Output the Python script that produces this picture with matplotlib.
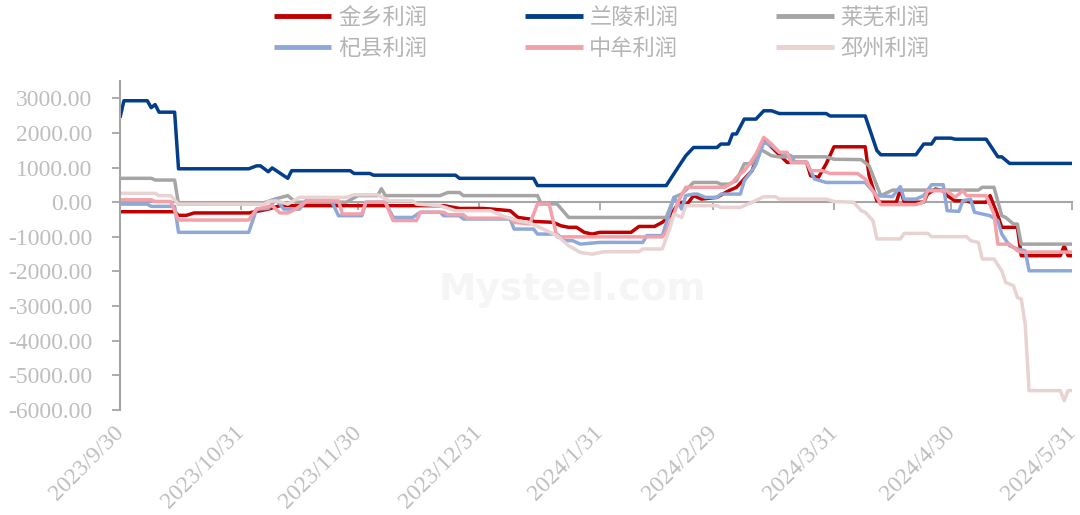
import matplotlib
matplotlib.use('Agg')
import matplotlib.pyplot as plt
import matplotlib.transforms as mtransforms
import pandas as pd

# ---------------- data ----------------
jx_dates = ['2023-09-30', '2023-10-14', '2023-10-15', '2023-10-17', '2023-10-19', '2023-11-02', '2023-11-07',
            '2023-11-10', '2023-12-22', '2023-12-26', '2024-01-01', '2024-01-03', '2024-01-08', '2024-01-10',
            '2024-01-13', '2024-01-14', '2024-01-19', '2024-01-21', '2024-01-23', '2024-01-25', '2024-01-27',
            '2024-01-29', '2024-01-31', '2024-02-08', '2024-02-10', '2024-02-14', '2024-02-16', '2024-02-18',
            '2024-02-20', '2024-02-21', '2024-02-22', '2024-02-23', '2024-02-24', '2024-02-26', '2024-03-01',
            '2024-03-04', '2024-03-06', '2024-03-08', '2024-03-10', '2024-03-13', '2024-03-16', '2024-03-19',
            '2024-03-24', '2024-03-25', '2024-03-27', '2024-03-29', '2024-03-31', '2024-04-08', '2024-04-09',
            '2024-04-11', '2024-04-12', '2024-04-16', '2024-04-17', '2024-04-18', '2024-04-23', '2024-04-24',
            '2024-04-26', '2024-04-28', '2024-04-29', '2024-05-01', '2024-05-04', '2024-05-05', '2024-05-09',
            '2024-05-10', '2024-05-11', '2024-05-12', '2024-05-13', '2024-05-17', '2024-05-18', '2024-05-28',
            '2024-05-29', '2024-05-30', '2024-05-31']
jx_vals = [-275, -275, -380, -380, -310, -310, -200,
           -100, -100, -180, -180, -195, -245, -440,
           -485, -555, -580, -680, -725, -725, -870,
           -920, -870, -870, -700, -700, -580, -390,
           -55, 0, -100, 40, 190, 90, 140,
           330, 430, 670, 910, 1820, 1480, 1150,
           1150, 765, 715, 1110, 1600, 1600, 765,
           40, 0, 0, 380, 0, 0, 240,
           380, 330, 190, 40, 40, 0, 0,
           190, -100, -390, -725, -725, -1545, -1545,
           -1260, -1545, -1545]

ll_dates = ['2023-09-30', '2023-10-01', '2023-10-07', '2023-10-08', '2023-10-09', '2023-10-10', '2023-10-14',
            '2023-10-15', '2023-11-02', '2023-11-04', '2023-11-05', '2023-11-07', '2023-11-08', '2023-11-12',
            '2023-11-13', '2023-11-28', '2023-11-29', '2023-12-03', '2023-12-04', '2023-12-25', '2023-12-26',
            '2024-01-14', '2024-01-15', '2024-02-17', '2024-02-20', '2024-02-22', '2024-02-24', '2024-03-01',
            '2024-03-02', '2024-03-04', '2024-03-05', '2024-03-06', '2024-03-08', '2024-03-11', '2024-03-13',
            '2024-03-15', '2024-03-17', '2024-03-29', '2024-03-30', '2024-04-08', '2024-04-11', '2024-04-12',
            '2024-04-21', '2024-04-23', '2024-04-25', '2024-04-26', '2024-04-30', '2024-05-01', '2024-05-09',
            '2024-05-12', '2024-05-13', '2024-05-15', '2024-05-31']
ll_vals = [2440, 2930, 2930, 2730, 2820, 2600, 2600,
           965, 965, 1050, 1050, 880, 990, 690,
           910, 910, 830, 830, 780, 780, 690,
           690, 480, 480, 1000, 1340, 1580, 1580,
           1680, 1680, 1970, 1970, 2400, 2400, 2640,
           2640, 2560, 2560, 2490, 2490, 1490, 1370,
           1370, 1680, 1680, 1850, 1850, 1820, 1820,
           1310, 1310, 1120, 1120]

lw_dates = ['2023-09-30', '2023-10-08', '2023-10-09', '2023-10-14', '2023-10-15', '2023-11-05', '2023-11-09',
            '2023-11-12', '2023-11-14', '2023-11-27', '2023-11-30', '2023-12-05', '2023-12-06', '2023-12-07',
            '2023-12-21', '2023-12-23', '2023-12-26', '2023-12-27', '2024-01-15', '2024-01-16', '2024-01-20',
            '2024-01-23', '2024-02-17', '2024-02-19', '2024-02-21', '2024-02-24', '2024-03-01', '2024-03-02',
            '2024-03-04', '2024-03-06', '2024-03-08', '2024-03-10', '2024-03-12', '2024-03-15', '2024-03-17',
            '2024-03-29', '2024-03-31', '2024-04-07', '2024-04-09', '2024-04-12', '2024-04-15', '2024-05-07',
            '2024-05-08', '2024-05-11', '2024-05-13', '2024-05-14', '2024-05-16', '2024-05-17', '2024-05-18',
            '2024-05-31']
lw_vals = [690, 690, 640, 640, -60, -50, 100,
           190, 0, 0, 190, 190, 390, 190,
           190, 280, 280, 190, 190, -50, -50,
           -440, -440, 140, 240, 570, 570, 520,
           520, 620, 1110, 1110, 1540, 1340, 1310,
           1310, 1240, 1230, 1050, 190, 350, 350,
           430, 430, -390, -440, -630, -630, -1210,
           -1210]

qx_dates = ['2023-09-30', '2023-10-07', '2023-10-08', '2023-10-14', '2023-10-15', '2023-11-02', '2023-11-04',
            '2023-11-07', '2023-11-09', '2023-11-11', '2023-11-15', '2023-11-17', '2023-11-23', '2023-11-25',
            '2023-12-01', '2023-12-02', '2023-12-07', '2023-12-09', '2023-12-14', '2023-12-16', '2023-12-21',
            '2023-12-22', '2023-12-26', '2023-12-27', '2024-01-08', '2024-01-09', '2024-01-14', '2024-01-15',
            '2024-01-20', '2024-01-22', '2024-01-24', '2024-01-26', '2024-01-31', '2024-02-11', '2024-02-12',
            '2024-02-16', '2024-02-18', '2024-02-19', '2024-02-21', '2024-02-22', '2024-02-24', '2024-02-25',
            '2024-02-27', '2024-03-01', '2024-03-02', '2024-03-07', '2024-03-08', '2024-03-10', '2024-03-11',
            '2024-03-13', '2024-03-15', '2024-03-17', '2024-03-20', '2024-03-21', '2024-03-24', '2024-03-26',
            '2024-03-29', '2024-04-08', '2024-04-11', '2024-04-15', '2024-04-17', '2024-04-18', '2024-04-21',
            '2024-04-23', '2024-04-25', '2024-04-28', '2024-04-29', '2024-05-02', '2024-05-03', '2024-05-05',
            '2024-05-06', '2024-05-10', '2024-05-12', '2024-05-13', '2024-05-15', '2024-05-17', '2024-05-19',
            '2024-05-20', '2024-05-31']
qx_vals = [-55, -55, -120, -120, -870, -870, -200,
           -180, 90, -200, -200, 90, 90, -390,
           -390, 0, 0, -440, -440, -290, -290,
           -390, -390, -485, -485, -775, -775, -920,
           -920, -1110, -1110, -1210, -1160, -1160, -965,
           -965, -245, 140, -200, 190, 235, 235,
           140, 140, 235, 235, 620, 910, 1100,
           1730, 1630, 1440, 1340, 1150, 1150, 670,
           570, 570, 190, 160, 450, 90, 90,
           190, 505, 505, -245, -265, 40, 90,
           -290, -390, -535, -920, -1255, -1350, -1400,
           -1980, -1980]

zm_dates = ['2023-09-30', '2023-10-08', '2023-10-09', '2023-10-13', '2023-10-15', '2023-11-02', '2023-11-04',
            '2023-11-08', '2023-11-10', '2023-11-12', '2023-11-14', '2023-11-17', '2023-11-25', '2023-11-26',
            '2023-12-01', '2023-12-02', '2023-12-07', '2023-12-09', '2023-12-15', '2023-12-16', '2023-12-22',
            '2023-12-23', '2023-12-27', '2023-12-28', '2024-01-08', '2024-01-09', '2024-01-13', '2024-01-15',
            '2024-01-18', '2024-01-20', '2024-02-16', '2024-02-17', '2024-02-19', '2024-02-20', '2024-02-22',
            '2024-03-03', '2024-03-05', '2024-03-06', '2024-03-08', '2024-03-09', '2024-03-11', '2024-03-13',
            '2024-03-15', '2024-03-17', '2024-03-19', '2024-03-20', '2024-03-24', '2024-03-25', '2024-03-28',
            '2024-03-30', '2024-04-06', '2024-04-08', '2024-04-11', '2024-04-12', '2024-04-21', '2024-04-23',
            '2024-04-24', '2024-04-29', '2024-05-01', '2024-05-03', '2024-05-04', '2024-05-09', '2024-05-11',
            '2024-05-12', '2024-05-15', '2024-05-17', '2024-05-18', '2024-05-31']
zm_vals = [70, 70, 20, 20, -515, -515, -200,
           -100, -310, -310, -200, 40, 40, -340,
           -340, 0, 0, -530, -530, -290, -290,
           -360, -360, -460, -460, -580, -630, -55,
           -55, -1000, -1000, -850, -330, 0, 430,
           430, 570, 715, 910, 1050, 1390, 1870,
           1680, 1440, 1440, 1150, 1150, 910, 910,
           830, 830, 670, 140, -70, -70, 0,
           330, 330, 140, 330, 190, 190, -340,
           -1210, -1210, -1400, -1440, -1440]

pz_dates = ['2023-09-30', '2023-10-09', '2023-10-10', '2023-10-13', '2023-10-15', '2023-11-06', '2023-11-07',
            '2023-11-09', '2023-11-12', '2023-11-15', '2023-11-27', '2023-11-29', '2023-12-05', '2023-12-08',
            '2023-12-14', '2023-12-15', '2023-12-21', '2023-12-25', '2024-01-03', '2024-01-06', '2024-01-10',
            '2024-01-13', '2024-01-16', '2024-01-20', '2024-01-23', '2024-01-26', '2024-01-29', '2024-02-01',
            '2024-02-10', '2024-02-11', '2024-02-16', '2024-02-18', '2024-02-19', '2024-02-21', '2024-02-22',
            '2024-03-01', '2024-03-02', '2024-03-07', '2024-03-10', '2024-03-13', '2024-03-16', '2024-03-17',
            '2024-03-29', '2024-03-31', '2024-04-05', '2024-04-07', '2024-04-08', '2024-04-10', '2024-04-11',
            '2024-04-17', '2024-04-18', '2024-04-24', '2024-04-25', '2024-05-04', '2024-05-05', '2024-05-07',
            '2024-05-08', '2024-05-11', '2024-05-13', '2024-05-14', '2024-05-16', '2024-05-17', '2024-05-18',
            '2024-05-19', '2024-05-20', '2024-05-28', '2024-05-29', '2024-05-30', '2024-05-31']
pz_vals = [255, 255, 190, 190, -55, -55, 20,
           40, -55, 140, 140, 215, 215, 40,
           40, -55, -100, -245, -245, -390, -535,
           -600, -750, -965, -1255, -1450, -1500, -1430,
           -1430, -1350, -1350, -725, -340, -440, -100,
           -100, -150, -150, 0, 160, 160, 90,
           90, 20, 0, -245, -290, -535, -1060,
           -1060, -900, -900, -995, -995, -1110, -1160,
           -1640, -1640, -1980, -2315, -2410, -2750, -2795,
           -3515, -5440, -5440, -5730, -5440, -5440]

series_names = ['金乡利润', '兰陵利润', '莱芜利润', '杞县利润', '中牟利润', '邳州利润']
series_colors = ['#C00000', '#023E8A', '#A5A5A5', '#8EA9D8', '#F4A0A8', '#E8D2D2']

x_tick_dates = ['2023-09-30', '2023-10-31', '2023-11-30', '2023-12-31', '2024-01-31',
                '2024-02-29', '2024-03-31', '2024-04-30', '2024-05-31']
x_tick_labels = ['2023/9/30', '2023/10/31', '2023/11/30', '2023/12/31', '2024/1/31',
                 '2024/2/29', '2024/3/31', '2024/4/30', '2024/5/31']
y_ticks = [3000, 2000, 1000, 0, -1000, -2000, -3000, -4000, -5000, -6000]

# ---------------- drawing ----------------
all_dates = [jx_dates, ll_dates, lw_dates, qx_dates, zm_dates, pz_dates]
all_vals = [jx_vals, ll_vals, lw_vals, qx_vals, zm_vals, pz_vals]

fig = plt.figure(figsize=(10.8, 5.15), dpi=100)
ax = fig.add_axes([120 / 1080, 105 / 515, 952 / 1080, 329 / 515])

num_font = 'Liberation Serif'
label_col = '#BEBEBE'
axis_col = '#A6A6A6'

ax.text(0.475, 0.365, 'Mysteel.com', transform=ax.transAxes, fontsize=27, fontweight='bold',
        color='#F5F5F5', ha='center', va='center', family='DejaVu Sans', zorder=0.5)

handles = {}
for name, col, d, v in zip(series_names, series_colors, all_dates, all_vals):
    h, = ax.plot(pd.to_datetime(d), v, color=col, lw=2.5, label=name, zorder=2,
                 solid_joinstyle='round', solid_capstyle='butt')
    handles[name] = h

ax.set_xlim(pd.Timestamp('2023-09-30'), pd.Timestamp('2024-05-31'))
ax.set_ylim(-6000, 3500)

ax.set_yticks(y_ticks)
ax.set_yticklabels([f'{t:.2f}' for t in y_ticks], fontsize=17, family=num_font, color=label_col)
ax.tick_params(axis='y', direction='out', length=6, width=1.3, color=axis_col, pad=14)

for s in ['top', 'right']:
    ax.spines[s].set_visible(False)
ax.spines['left'].set_color(axis_col)
ax.spines['left'].set_linewidth(1.5)
ax.spines['bottom'].set_position(('data', 0))
ax.spines['bottom'].set_color(axis_col)
ax.spines['bottom'].set_linewidth(1.5)
ax.spines['bottom'].set_zorder(1)

ax.set_xticks(pd.to_datetime(x_tick_dates))
ax.tick_params(axis='x', direction='out', length=6, width=1.3, color=axis_col, labelbottom=False)

sec = ax.secondary_xaxis('bottom')
sec.set_xticks(pd.to_datetime(x_tick_dates))
sec.set_xticklabels(x_tick_labels, rotation=45, ha='right', rotation_mode='anchor',
                    fontsize=17, family=num_font, color=label_col)
sec.tick_params(axis='x', length=0, pad=8.5)
sec.spines['bottom'].set_visible(False)
shift = mtransforms.ScaledTranslation(-7 / 100, 0, fig.dpi_scale_trans)
for lab in sec.get_xticklabels():
    lab.set_transform(lab.get_transform() + shift)

order = ['金乡利润', '杞县利润', '兰陵利润', '中牟利润', '莱芜利润', '邳州利润']
leg = fig.legend([handles[n] for n in order], order, loc='center', bbox_to_anchor=(0.557, 0.936),
                 ncol=3, frameon=False, handlelength=2.6, handletextpad=0.3, columnspacing=4.4,
                 labelspacing=0.34, borderpad=0, prop={'family': 'Noto Sans CJK SC', 'size': 16})
for line in leg.get_lines():
    line.set_linewidth(3.5)
for t in leg.get_texts():
    t.set_color('#B4B4B4')

fig.savefig('out.png', dpi=100)
